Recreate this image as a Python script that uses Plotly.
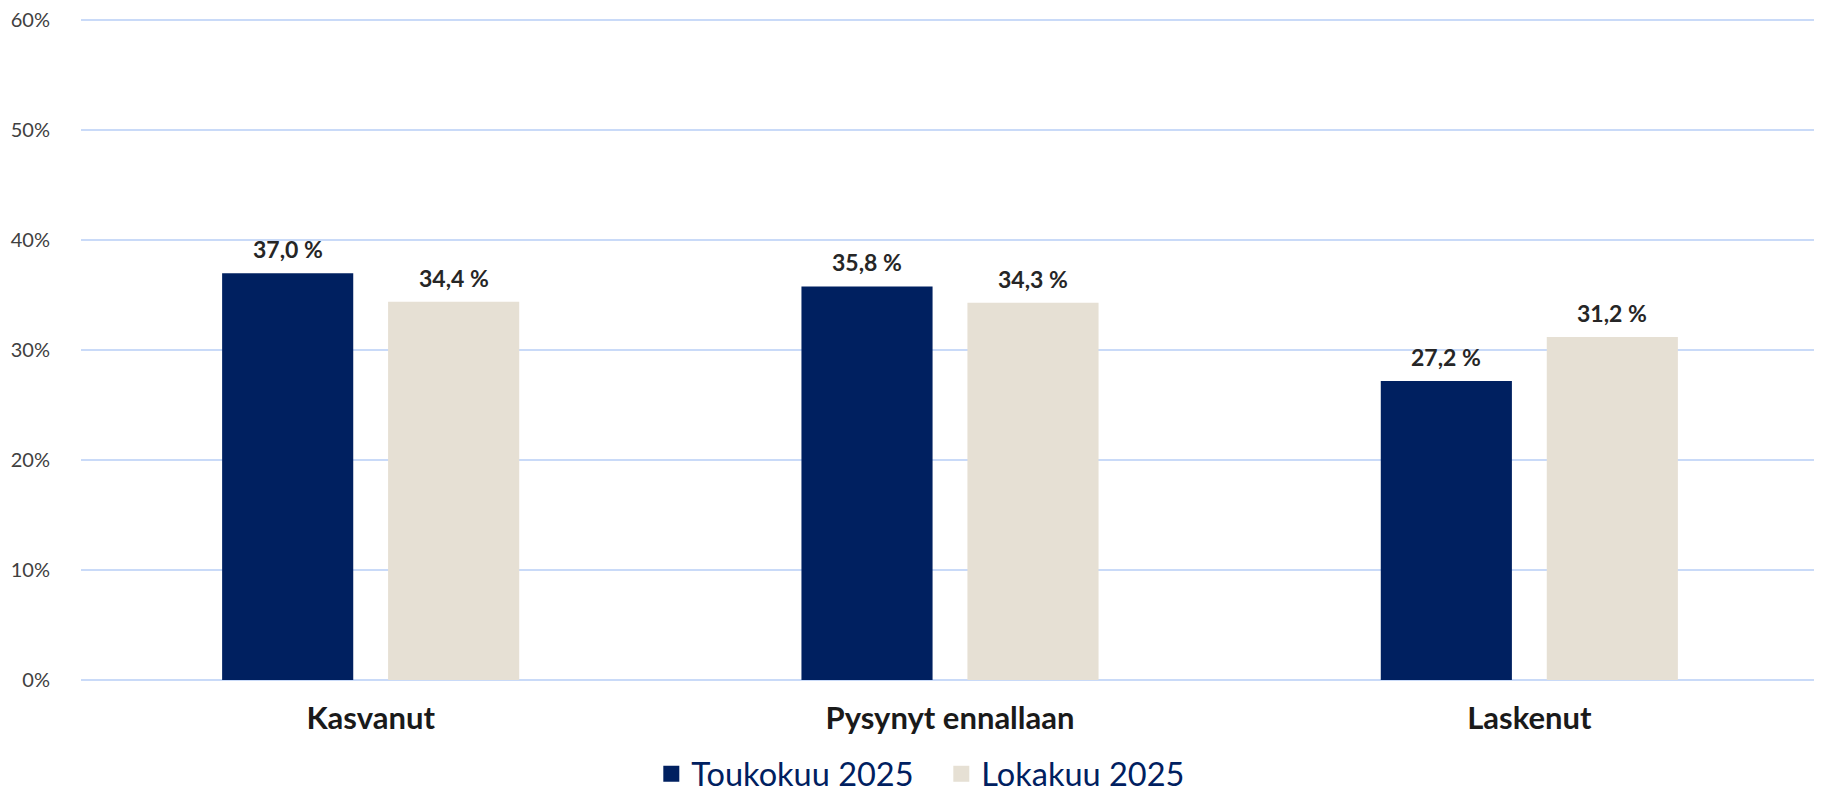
import plotly.graph_objects as go

categories = ["Kasvanut", "Pysynyt ennallaan", "Laskenut"]
series_names = ["Toukokuu 2025", "Lokakuu 2025"]
toukokuu = [37.0, 35.8, 27.2]
lokakuu = [34.4, 34.3, 31.2]
y_ticks = [0, 10, 20, 30, 40, 50, 60]
y_tick_labels = [f"{v}%" for v in y_ticks]

colors = ["#002060", "#E6E0D4"]
FONT = "Lato"

W, H = 1814, 787
L, R, T, B = 73, 3, 9, 115
BARGAP = 0.427
plot_w = W - L - R
slot = plot_w / len(categories) * (1 - BARGAP) / 2

fig = go.Figure()
for name, vals, col in zip(series_names, [toukokuu, lokakuu], colors):
    fig.add_trace(go.Bar(
        x=categories, y=vals, name=name, legendgroup=name, showlegend=False,
        marker=dict(color=col, line=dict(width=0)),
    ))
# legend entries with larger square swatches
for name, col in zip(series_names, colors):
    fig.add_trace(go.Scatter(
        x=[None], y=[None], name=name, legendgroup=name, mode="markers",
        marker=dict(symbol="square", size=19, color=col),
    ))

for i, vals in enumerate([toukokuu, lokakuu]):
    shift = (i - 0.5) * slot
    for c, v in zip(categories, vals):
        fig.add_annotation(
            x=c, y=v, xref="x", yref="y",
            text=f"{v:.1f} %".replace(".", ","),
            showarrow=False, xshift=shift, yshift=24, yanchor="middle",
            font=dict(family=FONT, size=23, color="#262626", weight="bold"),
        )

fig.update_layout(
    width=W, height=H,
    barmode="group", bargap=BARGAP, bargroupgap=0.21,
    plot_bgcolor="white", paper_bgcolor="white",
    margin=dict(l=L, r=R, t=T, b=B, autoexpand=False),
    font=dict(family=FONT),
    showlegend=True,
    legend=dict(
        orientation="h", x=0.495, xanchor="center", y=-0.142, yanchor="middle",
        font=dict(family=FONT, size=32.5, color="#002060"),
        itemwidth=30, tracegroupgap=0, itemsizing="trace",
        entrywidth=245, entrywidthmode="pixels",
    ),
    xaxis=dict(
        tickfont=dict(family=FONT, size=31, color="#1a1a1a", weight="bold"),
        showgrid=False, showline=False, ticks="", ticklabelstandoff=17,
        automargin=False,
    ),
    yaxis=dict(
        range=[0, 60.3], tickvals=y_ticks, ticktext=y_tick_labels,
        tickfont=dict(family=FONT, size=20, color="#404040"),
        showgrid=True, gridcolor="#C9DAF8", gridwidth=2,
        zeroline=True, zerolinecolor="#C9DAF8", zerolinewidth=2,
        showline=False, ticks="", ticklabelstandoff=30,
        ticklabeloverflow="allow",
        automargin=False,
    ),
)

fig.write_html("out.html")
